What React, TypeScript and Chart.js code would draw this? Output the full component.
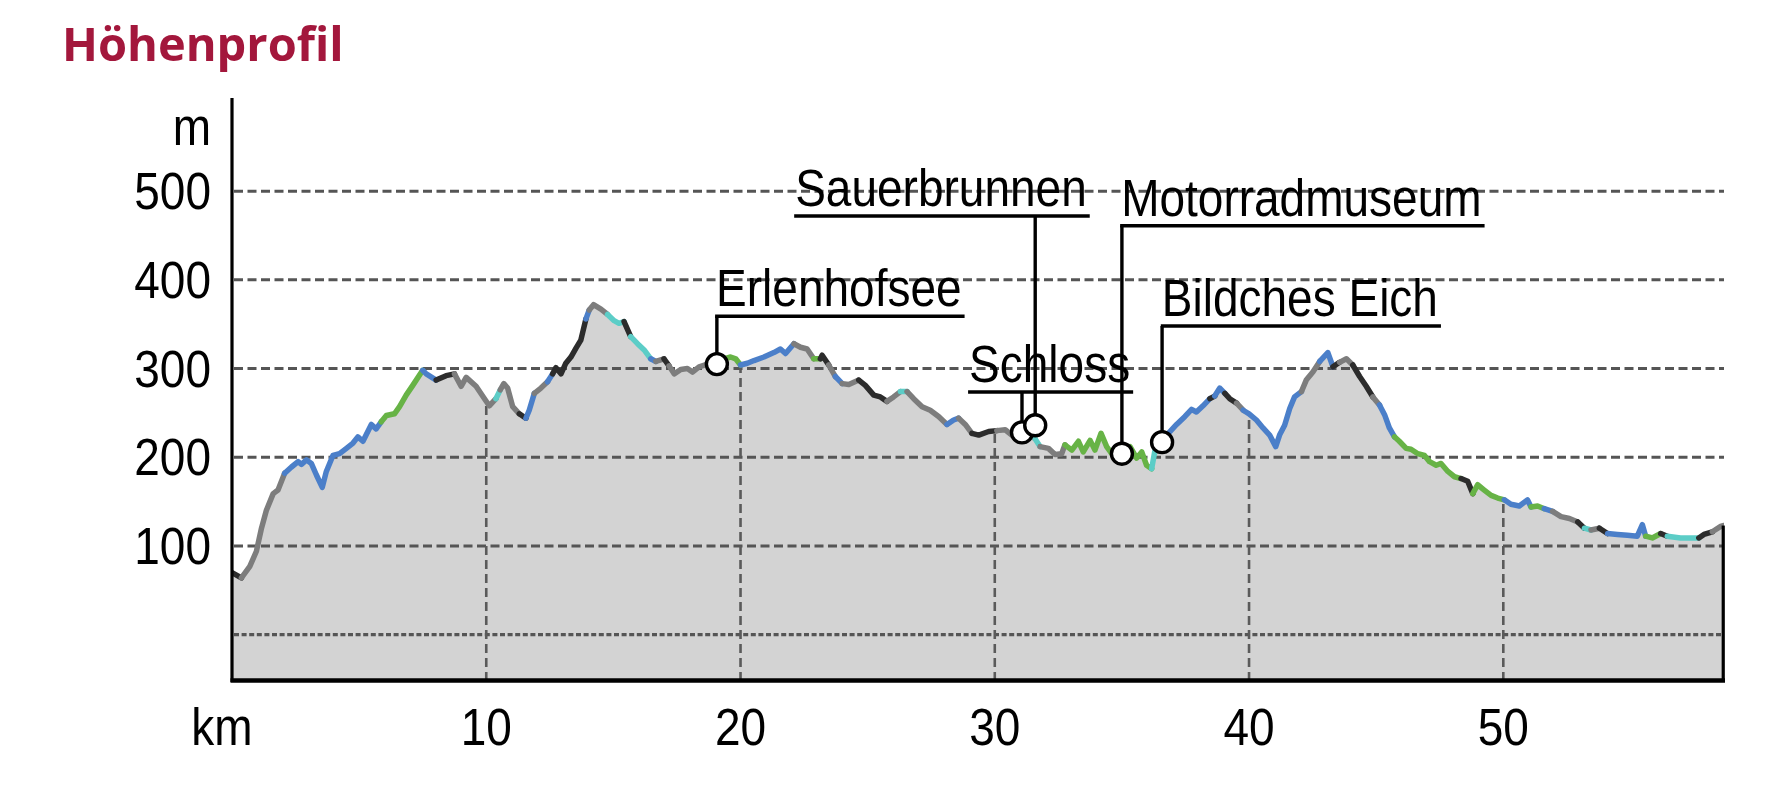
import React, { useEffect, useRef } from "react";
import { Chart, registerables } from "chart.js";

Chart.register(...registerables);

// ---- data ----
const distanceKm = [
  0.0, 0.37, 0.7, 0.96, 1.16, 1.35, 1.62, 1.81, 2.07, 2.34, 2.6, 2.73, 2.93, 3.12, 3.32, 3.55, 3.71, 3.97, 4.23, 4.5,
  4.76, 4.95, 5.15, 5.48, 5.67, 5.87, 6.07, 6.39, 6.59, 6.85, 7.11, 7.5, 7.64, 8.03, 8.42, 8.75, 9.01, 9.21, 9.6, 9.93,
  10.12, 10.38, 10.55, 10.69, 10.84, 11.04, 11.3, 11.56, 11.69, 11.89, 12.15, 12.41, 12.61, 12.74, 12.94, 13.13, 13.33, 13.53, 13.72, 13.92,
  14.05, 14.22, 14.51, 14.77, 15.03, 15.22, 15.42, 15.68, 15.95, 16.21, 16.47, 16.67, 16.99, 17.19, 17.39, 17.65, 17.91, 18.11, 18.37, 18.7,
  19.09, 19.35, 19.61, 19.81, 20.0, 20.27, 20.53, 20.92, 21.31, 21.57, 21.77, 22.1, 22.36, 22.62, 22.88, 23.14, 23.21, 23.47, 23.73, 24.0,
  24.26, 24.65, 24.91, 25.24, 25.5, 25.76, 26.02, 26.29, 26.55, 26.81, 27.14, 27.46, 27.79, 28.12, 28.38, 28.58, 28.84, 29.1, 29.37, 29.76,
  30.08, 30.41, 30.67, 31.06, 31.45, 31.58, 31.78, 32.11, 32.37, 32.63, 32.76, 33.03, 33.29, 33.48, 33.75, 33.94, 34.18, 34.4, 34.6, 34.8,
  35.0, 35.32, 35.58, 35.78, 35.97, 36.17, 36.3, 36.56, 36.89, 37.15, 37.48, 37.74, 37.93, 38.19, 38.46, 38.65, 38.85, 39.05, 39.24, 39.51,
  39.77, 40.0, 40.29, 40.55, 40.81, 41.05, 41.2, 41.4, 41.6, 41.79, 42.06, 42.25, 42.51, 42.78, 43.1, 43.3, 43.56, 43.83, 44.08, 44.35,
  44.61, 44.87, 45.13, 45.33, 45.52, 45.72, 45.91, 46.18, 46.37, 46.64, 46.9, 47.1, 47.36, 47.55, 47.82, 48.08, 48.34, 48.6, 48.8, 48.99,
  49.25, 49.52, 49.78, 50.04, 50.3, 50.63, 50.95, 51.09, 51.35, 51.61, 51.94, 52.27, 52.6, 52.93, 53.19, 53.45, 53.78, 54.1, 54.49, 54.88,
  55.27, 55.47, 55.6, 55.86, 56.19, 56.45, 56.97, 57.69, 57.89, 58.22, 58.55, 58.65,
];

const elevationM = [
  70, 64, 77, 94, 120, 140, 159, 163, 182, 189, 195, 192, 197, 193, 180, 166, 184, 202, 204, 210,
  216, 223, 218, 237, 232, 240, 247, 249, 257, 270, 281, 298, 294, 287, 292, 294, 280, 290, 280, 266,
  258, 266, 276, 283, 278, 257, 249, 244, 253, 272, 278, 285, 294, 301, 294, 306, 313, 323, 332, 356,
  366, 372, 367, 361, 354, 351, 353, 336, 328, 321, 311, 308, 311, 303, 294, 299, 300, 296, 302, 305,
  306, 311, 313, 311, 304, 306, 309, 313, 318, 322, 317, 328, 324, 322, 311, 311, 315, 304, 291, 283,
  282, 287, 281, 270, 268, 263, 268, 274, 274, 266, 257, 253, 246, 237, 242, 244, 237, 227, 225, 229,
  230, 231, 225, 227, 224, 221, 212, 210, 203, 204, 214, 208, 218, 206, 219, 208, 227, 212, 204, 210,
  203, 212, 199, 206, 191, 187, 208, 218, 229, 237, 246, 254, 251, 258, 266, 269, 278, 272, 266, 261,
  253, 249, 242, 233, 225, 212, 225, 236, 255, 268, 274, 287, 296, 308, 318, 302, 307, 311, 304, 291,
  280, 268, 259, 248, 233, 223, 218, 210, 209, 204, 202, 195, 191, 193, 184, 178, 176, 173, 159, 169,
  163, 157, 154, 152, 147, 145, 152, 144, 145, 142, 139, 133, 131, 127, 120, 118, 120, 114, 113, 112,
  111, 124, 111, 109, 114, 111, 109, 109, 113, 116, 122, 123,
];

// surface type of the segment starting at each point
// G = grey, D = dark, B = blue, N = green, C = cyan
const surface = [
  "D", "G", "G", "G", "G", "G", "G", "G", "B", "B", "B", "B", "B", "B", "B", "B", "B", "B", "B", "B",
  "B", "B", "B", "B", "B", "N", "N", "N", "N", "N", "N", "B", "B", "D", "D", "G", "G", "G", "G", "G",
  "G", "C", "G", "G", "G", "G", "D", "B", "B", "G", "G", "B", "D", "D", "D", "D", "D", "D", "D", "B",
  "G", "G", "G", "C", "C", "C", "D", "C", "C", "C", "B", "G", "D", "G", "G", "G", "G", "G", "G", "G",
  "G", "N", "N", "N", "B", "B", "B", "B", "B", "B", "B", "G", "G", "G", "N", "D", "D", "G", "B", "G",
  "G", "D", "D", "D", "D", "G", "G", "C", "G", "G", "G", "G", "G", "B", "B", "G", "G", "D", "D", "D",
  "G", "G", "G", "G", "G", "C", "G", "G", "G", "G", "N", "N", "N", "N", "N", "N", "N", "N", "N", "N",
  "N", "N", "N", "N", "N", "C", "C", "B", "B", "B", "B", "B", "B", "B", "D", "B", "B", "D", "D", "G",
  "B", "B", "B", "B", "B", "B", "B", "B", "B", "B", "G", "G", "G", "B", "B", "D", "G", "G", "D", "D",
  "D", "G", "B", "B", "B", "N", "N", "N", "N", "N", "N", "N", "N", "N", "N", "N", "D", "D", "N", "N",
  "N", "N", "N", "B", "B", "B", "B", "N", "N", "B", "G", "G", "G", "D", "C", "G", "D", "B", "B", "B",
  "B", "B", "N", "N", "D", "C", "C", "D", "D", "G", "G", "C",
];

const surfaceColors: Record<string, string> = {
  G: "#7d7d7d",
  D: "#2c2c2c",
  B: "#4b7fc9",
  N: "#67b346",
  C: "#5ccdc7",
};

// points of interest
const markerNames = ["Erlenhofsee", "Schloss", "Sauerbrunnen", "Motorradmuseum", "Bildches Eich"];
const markerKm = [19.07, 31.07, 31.59, 35.0, 36.58];
const markerM = [305, 228, 236, 204, 217];
// label anchors (left end and level of the underline), in km / m
const labelKm = [19.0, 28.95, 22.11, 34.93, 36.53];
const labelM = [359, 273.5, 472, 461, 348];

const xTicks = [0, 10, 20, 30, 40, 50];
const yTicks = [0, 100, 200, 300, 400, 500];
const yUnitValue = 572;
const xUnitLabel = "km";
const yUnitLabel = "m";
const titleText = "Höhenprofil";

const FONT = "'Liberation Sans', Arial, sans-serif";
const TEXT_STRETCH = 1.11;

function stretchedText(ctx: CanvasRenderingContext2D, text: string, x: number, y: number) {
  ctx.save();
  ctx.translate(x, y);
  ctx.scale(1, TEXT_STRETCH);
  ctx.fillText(text, 0, 0);
  ctx.restore();
}

const decorPlugin = {
  id: "profileDecor",
  afterDatasetDraw(chart: any, args: any) {
    const { ctx, chartArea: a, scales } = chart;
    const x = scales.x;
    const y = scales.y;
    if (args.index === 0) {
      ctx.save();
      ctx.strokeStyle = "#555555";
      yTicks.forEach((v) => {
        const py = y.getPixelForValue(v);
        ctx.lineWidth = v === 0 ? 3.2 : 3;
        ctx.setLineDash(v === 0 ? [5, 2.6] : [9, 4.5]);
        ctx.beginPath();
        ctx.moveTo(a.left + 2, py);
        ctx.lineTo(a.right, py);
        ctx.stroke();
      });
      const pts = args.meta.data;
      ctx.beginPath();
      ctx.moveTo(pts[0].x, a.bottom);
      pts.forEach((p: any) => ctx.lineTo(p.x, p.y));
      ctx.lineTo(pts[pts.length - 1].x, a.bottom);
      ctx.closePath();
      ctx.clip();
      ctx.lineWidth = 2.6;
      ctx.setLineDash([9, 5]);
      ctx.strokeStyle = "#5a5a5a";
      xTicks
        .filter((v) => v > 0)
        .forEach((v) => {
          const px = x.getPixelForValue(v);
          ctx.beginPath();
          ctx.moveTo(px, a.top);
          ctx.lineTo(px, a.bottom);
          ctx.stroke();
        });
      ctx.restore();
    }
    if (args.index === 1) {
      ctx.save();
      ctx.strokeStyle = "#000";
      ctx.fillStyle = "#000";
      ctx.lineWidth = 3.4;
      ctx.setLineDash([]);
      ctx.font = `46px ${FONT}`;
      ctx.textAlign = "left";
      ctx.textBaseline = "alphabetic";
      markerNames.forEach((name, i) => {
        const cx = x.getPixelForValue(markerKm[i]);
        const cy = y.getPixelForValue(markerM[i]);
        const lx = x.getPixelForValue(labelKm[i]);
        const ly = y.getPixelForValue(labelM[i]);
        const w = ctx.measureText(name).width;
        ctx.beginPath();
        ctx.moveTo(cx, cy);
        ctx.lineTo(cx, ly);
        ctx.stroke();
        ctx.beginPath();
        ctx.moveTo(lx, ly);
        ctx.lineTo(lx + w + 4, ly);
        ctx.stroke();
        stretchedText(ctx, name, lx + 1, ly - 10);
      });
      ctx.restore();
    }
  },
  afterDatasetsDraw(chart: any) {
    const { ctx, chartArea: a } = chart;
    const pts = chart.getDatasetMeta(0).data;
    ctx.save();
    ctx.strokeStyle = "#000";
    ctx.setLineDash([]);
    ctx.lineWidth = 3.2;
    ctx.beginPath();
    ctx.moveTo(a.left, a.top);
    ctx.lineTo(a.left, a.bottom + 3);
    ctx.stroke();
    const last = pts[pts.length - 1];
    ctx.beginPath();
    ctx.moveTo(last.x, last.y);
    ctx.lineTo(last.x, a.bottom + 1);
    ctx.stroke();
    ctx.lineWidth = 4.5;
    ctx.beginPath();
    ctx.moveTo(a.left - 1.5, a.bottom + 1.5);
    ctx.lineTo(a.right + 1, a.bottom + 1.5);
    ctx.stroke();
    ctx.restore();
  },
  afterDraw(chart: any) {
    const { ctx, scales } = chart;
    const x = scales.x;
    const y = scales.y;
    ctx.save();
    ctx.fillStyle = "#000";
    ctx.font = `46px ${FONT}`;
    // y axis tick labels (ticks built by the scale)
    ctx.textAlign = "right";
    ctx.textBaseline = "middle";
    y.ticks.forEach((t: any) => {
      if (t.value === 0) return;
      const label = t.value === yUnitValue ? yUnitLabel : String(t.value);
      stretchedText(ctx, label, y.right - 21, y.getPixelForValue(t.value) + 4);
    });
    // x axis tick labels
    ctx.textAlign = "center";
    x.ticks.forEach((t: any) => {
      const isUnit = t.value === 0;
      const label = isUnit ? xUnitLabel : String(t.value);
      stretchedText(ctx, label, x.getPixelForValue(t.value) - (isUnit ? 10 : 0), x.top + 52);
    });
    // title
    ctx.font = "700 47px 'Open Sans', 'Noto Sans', sans-serif";
    ctx.fillStyle = "#a3173c";
    ctx.textAlign = "left";
    ctx.textBaseline = "alphabetic";
    ctx.fillText(titleText, 62, 61);
    ctx.restore();
  },
};

export default function App() {
  const canvasRef = useRef<HTMLCanvasElement | null>(null);

  useEffect(() => {
    document.body.style.margin = "0";
    const canvas = canvasRef.current;
    if (!canvas) return;
    const points = distanceKm.map((km, i) => ({ x: km, y: elevationM[i] }));
    const markers = markerKm.map((km, i) => ({ x: km, y: markerM[i] }));

    const chart = new Chart(canvas, {
      type: "line",
      data: {
        datasets: [
          {
            label: "fill",
            data: points,
            borderWidth: 0,
            backgroundColor: "#d3d3d3",
            fill: "start",
            pointRadius: 0,
            tension: 0,
            order: 3,
          },
          {
            label: "profile",
            data: points,
            borderWidth: 5.5,
            borderColor: surfaceColors.G,
            fill: false,
            pointRadius: 0,
            tension: 0,
            borderJoinStyle: "round",
            borderCapStyle: "round",
            segment: {
              borderColor: (c: any) => surfaceColors[surface[c.p0DataIndex]] || surfaceColors.G,
            },
            order: 2,
          },
          {
            type: "scatter",
            label: "markers",
            data: markers,
            pointRadius: 10.5,
            pointBorderWidth: 3.4,
            pointBackgroundColor: "#ffffff",
            pointBorderColor: "#000000",
            showLine: false,
            order: 1,
          } as any,
        ],
      },
      options: {
        animation: false,
        responsive: false,
        events: [],
        layout: { padding: { top: 98, right: 54, left: 0, bottom: 0 } },
        plugins: {
          legend: { display: false },
          tooltip: { enabled: false },
          title: { display: false },
        },
        scales: {
          x: {
            type: "linear",
            min: 0,
            max: 58.68,
            grid: { display: false, drawTicks: false },
            border: { display: false },
            afterFit: (s: any) => {
              s.height = 124;
            },
            afterBuildTicks: (s: any) => {
              s.ticks = xTicks.map((v) => ({ value: v }));
            },
            ticks: { display: false, autoSkip: false, maxRotation: 0 },
          },
          y: {
            type: "linear",
            min: -50,
            max: 605,
            grid: { display: false, drawTicks: false },
            border: { display: false },
            afterFit: (s: any) => {
              s.width = 232;
            },
            afterBuildTicks: (s: any) => {
              s.ticks = [...yTicks, yUnitValue].map((v) => ({ value: v }));
            },
            ticks: { display: false, autoSkip: false },
          },
        },
      },
      plugins: [decorPlugin as any],
    });

    return () => chart.destroy();
  }, []);

  return (
    <div style={{ position: "relative", width: 1778, height: 803, background: "#fff" }}>
      <canvas ref={canvasRef} width={1778} height={803} style={{ width: 1778, height: 803, display: "block" }} />
    </div>
  );
}
